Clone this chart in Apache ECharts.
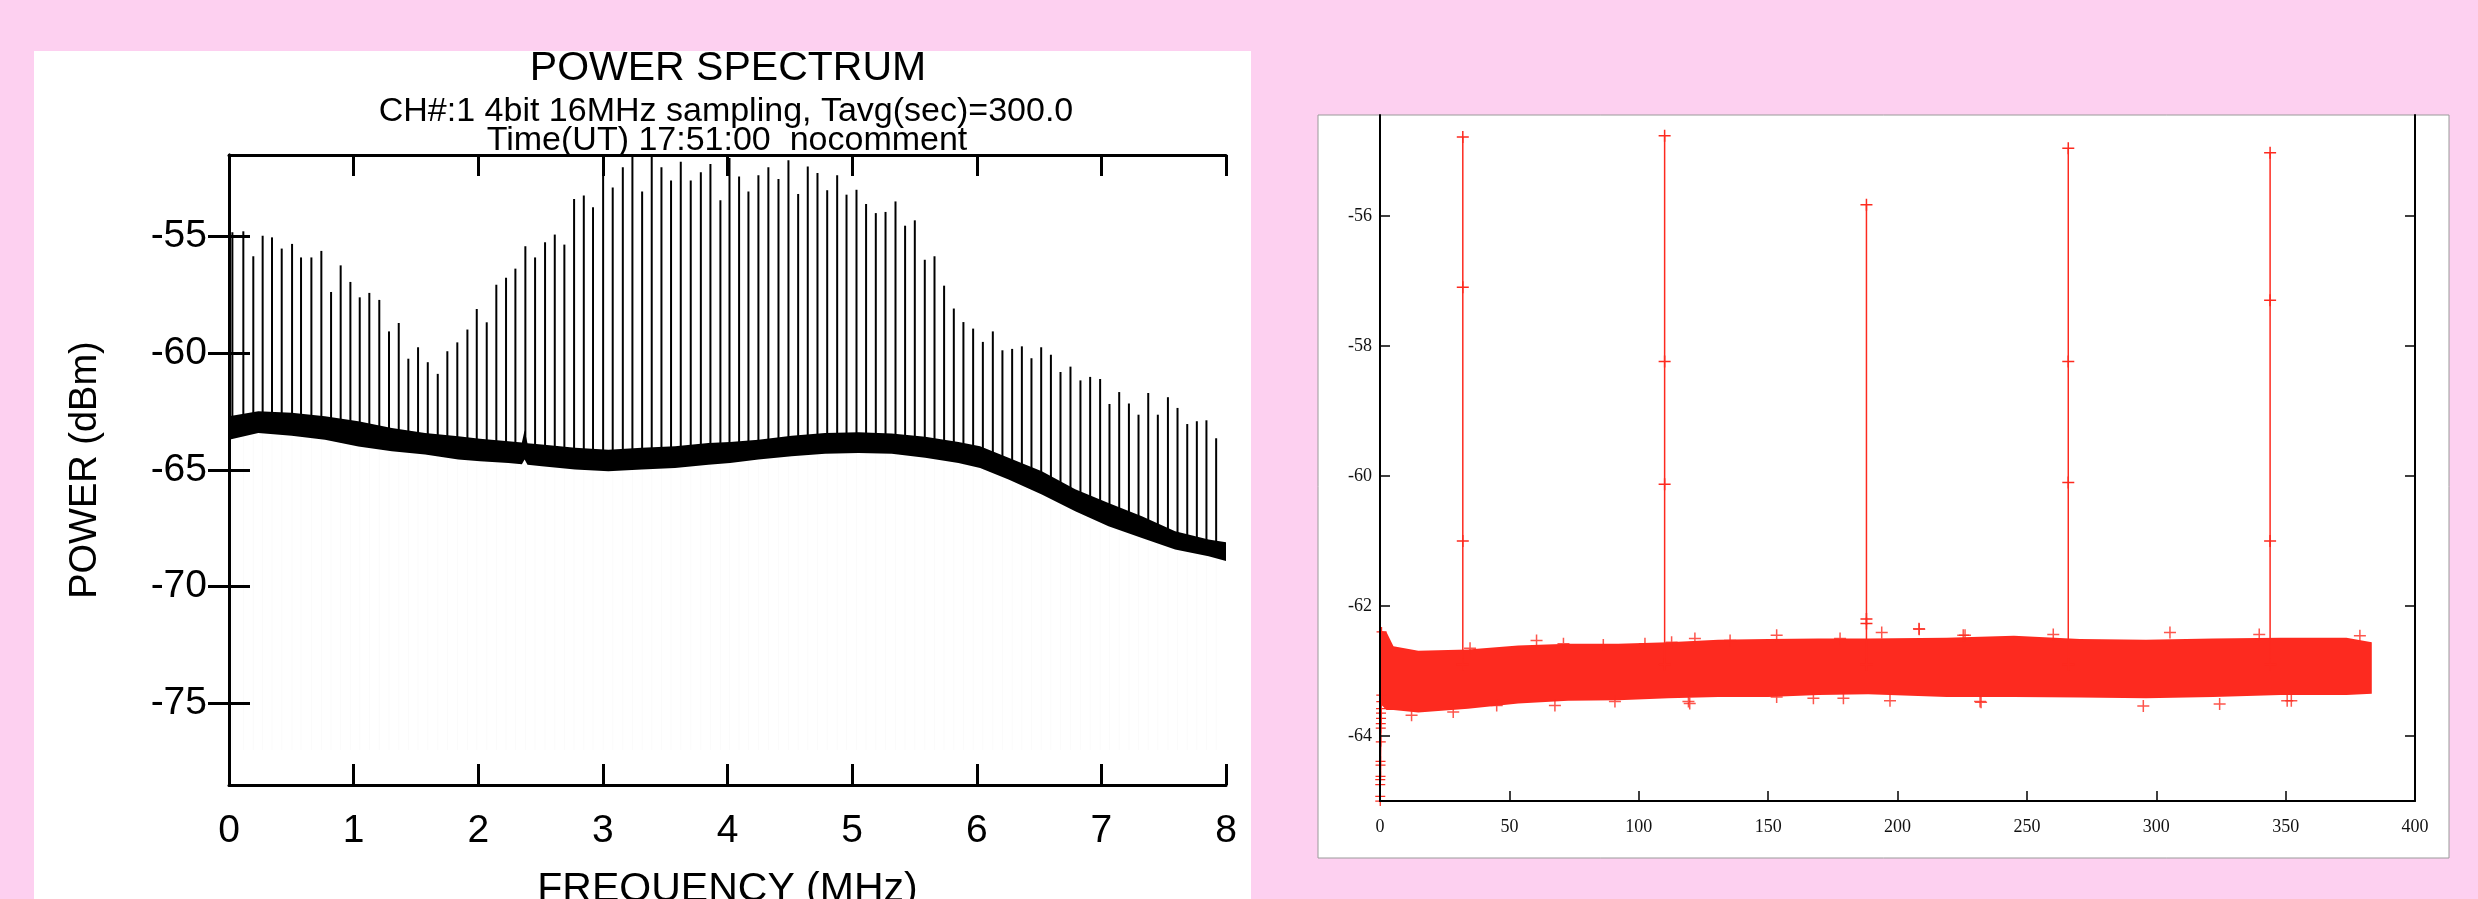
<!DOCTYPE html>
<html>
<head>
<meta charset="utf-8">
<script src="https://cdn.jsdelivr.net/npm/echarts@6.0.0/dist/echarts.min.js"></script>
<style>
  html, body { margin: 0; padding: 0; background: #fdd0f0; }
  #chart { width: 2478px; height: 899px; }
</style>
</head>
<body>
<div id="chart"></div>
<script>
// ---- left panel: POWER SPECTRUM (MHz vs dBm) ----
var specTicks = [-75, -70, -65, -60, -55];
var specXTicks = [0, 1, 2, 3, 4, 5, 6, 7, 8];

// comb spikes (frequency MHz, peak dBm)
var spikeFreq = [0.027,0.115,0.195,0.270,0.345,0.423,0.506,0.578,0.661,0.741,0.819,0.896,0.974,1.049,1.126,1.206,1.284,1.362,1.439,1.517,1.595,1.675,1.752,1.832,1.913,1.988,
  2.068,2.145,2.223,2.298,2.378,2.456,2.536,2.614,2.691,2.769,2.847,2.921,3.002,3.079,3.160,3.237,3.315,3.392,3.470,3.547,3.625,3.705,3.786,3.863,3.943,
  4.016,4.093,4.168,4.248,4.328,4.409,4.489,4.567,4.644,4.722,4.800,4.880,4.955,5.035,5.112,5.190,5.268,5.348,5.425,5.503,5.583,5.661,5.738,5.816,5.893,5.971,
  6.049,6.129,6.206,6.284,6.362,6.439,6.517,6.595,6.672,6.752,6.832,6.910,6.990,7.065,7.143,7.221,7.298,7.376,7.453,7.534,7.611,7.689,7.766,7.843,7.921];
var spikePeak = [-54.81,-54.77,-55.84,-54.96,-55.03,-55.51,-55.31,-55.89,-55.89,-55.61,-57.37,-56.23,-56.94,-57.60,-57.41,-57.71,-59.06,-58.70,-60.23,-59.74,-60.38,-60.88,-59.91,-59.53,-58.98,-58.10,
  -58.67,-57.06,-56.76,-56.37,-55.41,-55.89,-55.24,-54.91,-55.34,-53.39,-53.24,-53.74,-51.5,-52.89,-52.02,-51.5,-53.06,-51.5,-52.02,-52.59,-51.79,-52.59,-52.24,-51.89,-53.44,
  -51.63,-52.42,-53.06,-52.37,-52.02,-52.53,-51.73,-53.17,-51.99,-52.27,-53.01,-52.37,-53.20,-52.99,-53.60,-53.99,-53.94,-53.49,-54.53,-54.30,-55.99,-55.84,-57.10,-58.08,-58.66,-58.94,
  -59.51,-59.06,-59.87,-59.81,-59.70,-60.21,-59.74,-60.06,-60.80,-60.57,-61.16,-61.01,-61.10,-62.17,-61.66,-62.15,-62.63,-61.70,-62.63,-61.88,-62.34,-63.03,-62.91,-62.87,-63.64];
// faint downward traces under the floor reach about this level
var traceFloor = -77;

// noise floor band (upper / lower edge)
var bandFreq = [0.0,0.235,0.503,0.770,1.038,1.306,1.573,1.840,2.014,2.242,2.350,2.372,2.395,2.510,2.777,3.044,3.312,3.579,3.847,4.021,4.248,4.515,4.783,5.051,5.318,5.586,5.853,6.027,6.255,6.522,6.790,7.057,7.325,7.592,7.860,8.0];
var bandHi = [-62.70,-62.48,-62.55,-62.70,-62.91,-63.20,-63.41,-63.55,-63.66,-63.77,-63.82,-63.30,-63.85,-63.91,-64.05,-64.13,-64.05,-63.98,-63.84,-63.80,-63.70,-63.53,-63.41,-63.38,-63.44,-63.58,-63.80,-63.98,-64.48,-65.05,-65.83,-66.41,-66.98,-67.62,-67.98,-68.10];
var bandLo = [-63.70,-63.41,-63.53,-63.70,-63.99,-64.20,-64.34,-64.55,-64.63,-64.70,-64.75,-64.55,-64.78,-64.84,-64.98,-65.05,-64.98,-64.91,-64.77,-64.70,-64.55,-64.41,-64.30,-64.27,-64.30,-64.48,-64.70,-64.91,-65.41,-66.05,-66.77,-67.41,-67.91,-68.41,-68.70,-68.90];

// ---- right panel: red scatter ----
var rTicksY = [-64, -62, -60, -58, -56];
var rTicksX = [0, 50, 100, 150, 200, 250, 300, 350, 400];

var rBandX = [0,2.5,5.2,14.8,34,53.4,72.7,92,111.4,130.7,150,169.4,188.7,219,245,270.5,296,322,348,373.5,383.3];
var rBandTop = [-62.38,-62.40,-62.62,-62.69,-62.67,-62.61,-62.58,-62.58,-62.56,-62.52,-62.51,-62.50,-62.50,-62.49,-62.46,-62.51,-62.52,-62.50,-62.49,-62.49,-62.56];
var rBandBot = [-63.50,-63.60,-63.60,-63.64,-63.58,-63.50,-63.46,-63.45,-63.42,-63.40,-63.40,-63.37,-63.36,-63.40,-63.40,-63.41,-63.42,-63.40,-63.37,-63.37,-63.35];

var rOutX = [34.8,60.5,70.9,86.3,102.4,112.7,121.7,135.3,153.3,177.8,193.9,208.3,208.4,225.4,226.1,260.2,305.3,339.8,378.7,
  12.2,28.3,45.1,67.6,90.8,119.2,153.3,167.5,179.1,197.1,231.9,295.0,324.5,350.6,352.2,119.7,232.3];
var rOutY = [-62.65,-62.53,-62.58,-62.60,-62.58,-62.56,-62.50,-62.53,-62.45,-62.50,-62.41,-62.35,-62.36,-62.45,-62.45,-62.44,-62.41,-62.44,-62.46,
  -63.68,-63.63,-63.53,-63.53,-63.47,-63.47,-63.40,-63.42,-63.42,-63.46,-63.47,-63.54,-63.51,-63.46,-63.46,-63.50,-63.48];

var rSpikeX = [32, 110, 188, 266, 344];
var rSpikeBase = [-62.9, -62.9, -62.9, -62.9, -62.9];
var rSpikeLow = [-61.0, -60.13, -62.27, -60.1, -61.0];
var rSpikePeak = [-54.79, -54.77, -55.83, -54.96, -55.03];
var rSpikeMid = [-57.1, -58.24, -62.2, -58.24, -57.3];

var rStartX = [0.6,0.5,0.5,0.4,0.4,0.4,0.3,0.3,0.3,0.2,0.2,0.2,0.1,0.1,0.1,0.1];
var rStartY = [-62.40,-63.37,-63.47,-63.58,-63.65,-63.73,-63.81,-63.88,-64.09,-64.39,-64.45,-64.62,-64.67,-64.75,-64.93,-65.0];

var RED = '#fd2a1f';
var PLUS = 'path://M0,7H16V9H0Z M7,0H9V16H7Z';
var SANS = '"Liberation Sans", Arial, sans-serif';
var SERIF = '"Liberation Serif", "Times New Roman", serif';

function lerp(xs, ys, x) {
  for (var i = 1; i < xs.length; i++) {
    if (x <= xs[i]) {
      var t = (x - xs[i - 1]) / (xs[i] - xs[i - 1]);
      return ys[i - 1] + t * (ys[i] - ys[i - 1]);
    }
  }
  return ys[ys.length - 1];
}

function bandRender(xs, hi, lo, color) {
  return function (params, api) {
    if (params.dataIndex !== 0) return null;
    var pts = [];
    for (var i = 0; i < xs.length; i++) pts.push(api.coord([xs[i], hi[i]]));
    for (var j = xs.length - 1; j >= 0; j--) pts.push(api.coord([xs[j], lo[j]]));
    return { type: 'polygon', shape: { points: pts }, style: { fill: color } };
  };
}

var myChart = echarts.init(document.getElementById('chart'));

var frameLine = { show: true, lineStyle: { color: '#000', width: 3 } };
var thinLine = { show: true, lineStyle: { color: '#000', width: 2 } };

var rightSpikeSeries = rSpikeX.map(function (x, i) {
  return {
    type: 'line', xAxisIndex: 2, yAxisIndex: 2, z: 4,
    symbol: PLUS, symbolSize: 12, showSymbol: true,
    lineStyle: { color: RED, width: 1.5 },
    itemStyle: { color: RED },
    data: [[x, rSpikeBase[i]], [x, rSpikeLow[i]], [x, rSpikePeak[i]], [x, rSpikeMid[i]], [x, rSpikeBase[i]]]
  };
});

var option = {
  backgroundColor: '#fdd0f0',
  animation: false,
  graphic: [
    { type: 'rect', z: -10, shape: { x: 34, y: 51, width: 1217, height: 860 }, style: { fill: '#fff' } },
    { type: 'rect', z: -10, shape: { x: 1318, y: 115, width: 1131, height: 743 }, style: { fill: '#fff', stroke: '#9a9a9a', lineWidth: 1 } },
    { type: 'text', z: 20, x: 728, y: 69, style: { text: 'POWER SPECTRUM', font: '41px ' + SANS, fill: '#000', align: 'center', verticalAlign: 'middle' } },
    { type: 'text', z: 20, x: 726, y: 112, style: { text: 'CH#:1 4bit 16MHz sampling, Tavg(sec)=300.0', font: '34px ' + SANS, fill: '#000', align: 'center', verticalAlign: 'middle' } },
    { type: 'text', z: 20, x: 727, y: 141, style: { text: 'Time(UT) 17:51:00  nocomment', font: '34px ' + SANS, fill: '#000', align: 'center', verticalAlign: 'middle' } }
  ],
  grid: [
    { left: 229, top: 155, width: 997, height: 630, outerBoundsMode: 'none', containLabel: false },
    { left: 1380, top: 115, width: 1035, height: 686, outerBoundsMode: 'none', containLabel: false }
  ],
  xAxis: [
    {
      gridIndex: 0, type: 'value', min: 0, max: 8, interval: 1, position: 'bottom', z: 10,
      axisLine: frameLine, splitLine: { show: false },
      axisTick: { inside: true, length: 21, lineStyle: { width: 3, color: '#000' }, customValues: specXTicks },
      axisLabel: { color: '#000', fontSize: 39, fontFamily: SANS, margin: 27, customValues: specXTicks },
      name: 'FREQUENCY (MHz)', nameLocation: 'middle', nameGap: 84,
      nameTextStyle: { color: '#000', fontSize: 41, fontFamily: SANS }
    },
    {
      gridIndex: 0, type: 'value', min: 0, max: 8, interval: 1, position: 'top', z: 10,
      axisLine: frameLine, splitLine: { show: false },
      axisTick: { inside: true, length: 21, lineStyle: { width: 3, color: '#000' }, customValues: specXTicks },
      axisLabel: { show: false }
    },
    {
      gridIndex: 1, type: 'value', min: 0, max: 400, interval: 50, position: 'bottom', z: 10,
      axisLine: thinLine, splitLine: { show: false },
      axisTick: { inside: true, length: 10, lineStyle: { width: 1.5, color: '#000' } },
      axisLabel: { color: '#111', fontSize: 18, fontFamily: SERIF, margin: 17 }
    }
  ],
  yAxis: [
    {
      gridIndex: 0, type: 'value', min: -78.5, max: -51.5, position: 'left', z: 10,
      axisLine: frameLine, splitLine: { show: false },
      axisTick: { inside: true, length: 21, lineStyle: { width: 3, color: '#000' }, customValues: specTicks },
      axisLabel: { color: '#000', fontSize: 39, fontFamily: SANS, margin: 22, customValues: specTicks },
      name: 'POWER (dBm)', nameLocation: 'middle', nameRotate: 90, nameGap: 124,
      nameTextStyle: { color: '#000', fontSize: 38, fontFamily: SANS }
    },
    {
      gridIndex: 0, type: 'value', min: -78.5, max: -51.5, position: 'right', z: 10,
      axisLine: frameLine, splitLine: { show: false },
      axisTick: { inside: true, length: 21, lineStyle: { width: 3, color: '#000' }, customValues: specTicks },
      axisLabel: { show: false }
    },
    {
      gridIndex: 1, type: 'value', min: -65, max: -54.45, position: 'left', z: 10,
      axisLine: thinLine, splitLine: { show: false },
      axisTick: { inside: true, length: 10, lineStyle: { width: 1.5, color: '#000' }, customValues: rTicksY },
      axisLabel: { color: '#111', fontSize: 18, fontFamily: SERIF, margin: 8, customValues: rTicksY }
    },
    {
      gridIndex: 1, type: 'value', min: -65, max: -54.45, position: 'right', z: 10,
      axisLine: thinLine, splitLine: { show: false },
      axisTick: { inside: true, length: 10, lineStyle: { width: 1.5, color: '#000' }, customValues: rTicksY },
      axisLabel: { show: false }
    }
  ],
  series: [
    {
      // faint downward traces below the noise floor
      type: 'custom', xAxisIndex: 0, yAxisIndex: 0, z: 1,
      renderItem: function (params, api) {
        var f = api.value(0);
        var p1 = api.coord([f, lerp(bandFreq, bandLo, f)]);
        var p2 = api.coord([f, traceFloor]);
        return { type: 'line', shape: { x1: p1[0], y1: p1[1], x2: p2[0], y2: p2[1] }, style: { stroke: '#fbfbfb', lineWidth: 1 } };
      },
      data: spikeFreq.map(function (f) { return [f, traceFloor]; })
    },
    {
      type: 'custom', xAxisIndex: 0, yAxisIndex: 0, z: 2,
      renderItem: bandRender(bandFreq, bandHi, bandLo, '#000'),
      data: bandFreq.map(function (f, i) { return [f, bandHi[i], bandLo[i]]; })
    },
    {
      type: 'custom', xAxisIndex: 0, yAxisIndex: 0, z: 3,
      renderItem: function (params, api) {
        var f = api.value(0);
        var base = (lerp(bandFreq, bandHi, f) + lerp(bandFreq, bandLo, f)) / 2;
        var p1 = api.coord([f, api.value(1)]);
        var p2 = api.coord([f, base]);
        return { type: 'line', shape: { x1: p1[0], y1: p1[1], x2: p2[0], y2: p2[1] }, style: { stroke: '#000', lineWidth: 2 } };
      },
      data: spikeFreq.map(function (f, i) { return [f, spikePeak[i]]; })
    },
    {
      type: 'custom', xAxisIndex: 2, yAxisIndex: 2, z: 2,
      renderItem: bandRender(rBandX, rBandTop, rBandBot, RED),
      data: rBandX.map(function (x, i) { return [x, rBandTop[i], rBandBot[i]]; })
    },
    {
      type: 'scatter', xAxisIndex: 2, yAxisIndex: 2, z: 3,
      symbol: PLUS, symbolSize: 12, itemStyle: { color: RED },
      data: rOutX.map(function (x, i) { return [x, rOutY[i]]; })
    },
    {
      type: 'line', xAxisIndex: 2, yAxisIndex: 2, z: 4,
      symbol: PLUS, symbolSize: 10, showSymbol: true,
      lineStyle: { color: RED, width: 1.5 }, itemStyle: { color: RED },
      data: rStartX.map(function (x, i) { return [x, rStartY[i]]; })
    }
  ].concat(rightSpikeSeries)
};

myChart.setOption(option);
</script>
</body>
</html>
